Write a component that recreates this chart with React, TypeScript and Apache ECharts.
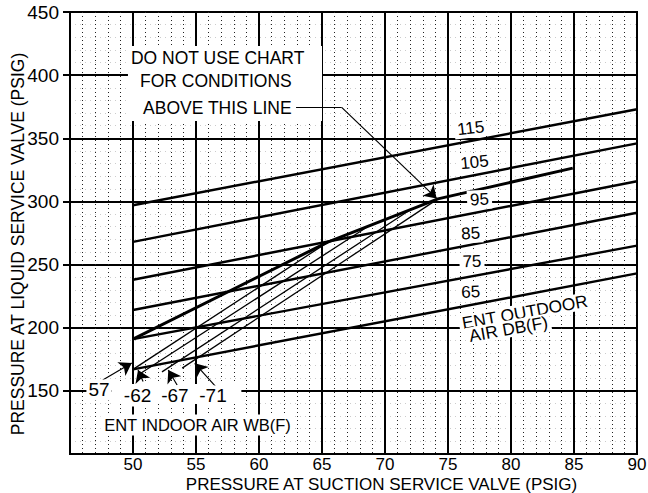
import React, { useEffect, useRef } from 'react';
import * as echarts from 'echarts';

// ---- data ----
const xRange = [45, 90];
const yRange = [100, 450];

// Entering outdoor air dry-bulb lines, from 50 psig to 90 psig suction
const dbLabels = ['115', '105', '95', '85', '75', '65'];
const dbX = [50, 90];
const dbStartY = [297, 268, 238, 214, 191, 167];
const dbEndY = [373, 346, 316, 291, 265, 243];

// "Do not use chart above this line" limit curve
const limitX = [50, 65.5, 74.2, 84.9];
const limitY = [191, 268, 302, 326.4];

// Entering indoor air wet-bulb lines
const wbLabels = ['57', '62', '67', '71'];
const wbStartX = [50, 50.4, 52.3, 53.9];
const wbStartY = [167, 162.5, 165, 168];
const wbEndX = [65.5, 68.7, 72.1, 74.2];
const wbEndY = [268, 280.5, 294, 302];

// leader arrows for the wet-bulb labels (tail -> tip)
const wbLeaderTail = [[47.6, 158.6], [50.8, 157.4], [53.5, 154.6], [56.8, 150.7]];
const wbLeaderTip = [[49.9, 172], [50.4, 166.6], [52.8, 166.5], [54.9, 171.8]];

// leader of the limit note
const noteLeader = [[62.94, 374.5], [66.56, 374.5], [74.1, 302.4]];

const noteLines = ['DO NOT USE CHART', 'FOR CONDITIONS', 'ABOVE THIS LINE'];

// ---- annotation placement (value coordinates) ----
const notePos = [[49.84, 413.5], [50.56, 395.3], [50.8, 374]];
const noteMask = [49.6, 363.7, 65, 423];
const dbLabelPos = [[76.8, 358], [77.1, 331], [77.5, 301.5], [76.8, 274.6], [76.9, 252.4], [76.8, 228.3]];
const dbLabelRot = [0.12, 0.1, 0.05, 0.06, 0.03, 0.05];
const wbLabelText = ['57', '-62', '-67', '-71'];
const wbLabelPos = [[47.3, 150.7], [50.36, 146], [53.33, 146], [56.35, 146]];
const wbMask = [48.3, 139.6, 58.6, 155.4];

const FONT = '"Liberation Sans", Arial, sans-serif';

export default function App() {
  const ref = useRef<HTMLDivElement>(null);

  useEffect(() => {
    if (!ref.current) return;
    const chart = echarts.init(ref.current, null, { renderer: 'svg' });

    const series: any[] = [];
    dbLabels.forEach((n, i) => {
      series.push({
        type: 'line',
        name: 'DB ' + n,
        data: [[dbX[0], dbStartY[i]], [dbX[1], dbEndY[i]]],
        symbol: 'none',
        lineStyle: { color: '#000', width: 2.4 },
        z: 3,
      });
    });
    series.push({
      type: 'line',
      name: 'limit',
      data: limitX.map((x, i) => [x, limitY[i]]),
      symbol: 'none',
      lineStyle: { color: '#000', width: 3 },
      z: 3,
    });
    wbLabels.forEach((n, i) => {
      series.push({
        type: 'line',
        name: 'WB ' + n,
        data: [[wbStartX[i], wbStartY[i]], [wbEndX[i], wbEndY[i]]],
        symbol: 'none',
        lineStyle: { color: '#000', width: 1.3 },
        z: 3,
      });
    });
    // horizontal part of the note leader (no arrow)
    series.push({
      type: 'lines',
      coordinateSystem: 'cartesian2d',
      symbol: ['none', 'none'],
      lineStyle: { color: '#000', width: 1.2, opacity: 1 },
      data: [{ coords: [noteLeader[0], noteLeader[1]] }],
      z: 4,
    });
    // arrowed leaders
    series.push({
      type: 'lines',
      coordinateSystem: 'cartesian2d',
      symbol: ['none', 'arrow'],
      symbolSize: [4, 12],
      lineStyle: { color: '#000', width: 1.2, opacity: 1 },
      itemStyle: { color: '#000' },
      data: [
        { coords: [noteLeader[1], noteLeader[2]] },
        ...wbLeaderTail.map((t, i) => ({ coords: [t, wbLeaderTip[i]] })),
      ],
      z: 4,
    });

    const nameText = { color: '#000', fontSize: 17, fontFamily: FONT };

    chart.setOption({
      animation: false,
      backgroundColor: '#fff',
      grid: {
        left: 70, right: 11, top: 12, bottom: 39,
        outerBoundsMode: 'none',
        containLabel: false,
        show: true, borderColor: '#000', borderWidth: 2, backgroundColor: 'transparent',
      },
      xAxis: {
        type: 'value', min: xRange[0], max: xRange[1], interval: 5,
        name: 'PRESSURE AT SUCTION SERVICE VALVE (PSIG)',
        nameLocation: 'middle', nameGap: 22, nameMoveOverlap: false,
        nameTextStyle: { ...nameText, padding: [0, 0, 0, 56] },
        axisLine: { show: true, lineStyle: { color: '#000', width: 2 } },
        axisTick: { show: false },
        axisLabel: { color: '#000', fontFamily: FONT, fontSize: 17, margin: 2, showMinLabel: false },
        splitLine: { show: true, lineStyle: { color: '#000', width: 2 } },
        minorTick: { show: false, splitNumber: 5 },
        minorSplitLine: { show: true, lineStyle: { color: '#222', width: 1, type: [1, 3] } },
      },
      yAxis: {
        type: 'value', min: yRange[0], max: yRange[1], interval: 50,
        name: 'PRESSURE AT LIQUID SERVICE VALVE (PSIG)',
        nameLocation: 'middle', nameGap: 43, nameMoveOverlap: false,
        nameTextStyle: { ...nameText, fontSize: 17.5, padding: [0, 22, 0, 0] },
        axisLine: { show: true, lineStyle: { color: '#000', width: 2 } },
        axisTick: { show: true, length: 7, lineStyle: { color: '#000', width: 2 } },
        axisLabel: { color: '#000', fontFamily: FONT, fontSize: 19, margin: 11, showMinLabel: false },
        splitLine: { show: true, lineStyle: { color: '#000', width: 2 } },
        minorTick: { show: false, splitNumber: 5 },
        minorSplitLine: { show: true, lineStyle: { color: '#ccc', width: 1, type: [1, 4] } },
      },
      series,
    });

    const P = (x: number, y: number) => chart.convertToPixel({ gridIndex: 0 }, [x, y]) as number[];
    const maskRect = (m: number[]) => {
      const a = P(m[0], m[3]);
      const b = P(m[2], m[1]);
      return {
        type: 'rect', z: 1, silent: true,
        shape: { x: a[0], y: a[1], width: b[0] - a[0], height: b[1] - a[1] },
        style: { fill: '#fff' },
      };
    };
    const txt = (text: string, pos: number[], opts: any = {}) => {
      const p = P(pos[0], pos[1]);
      const st: any = {
        text, fill: '#000', fontSize: opts.size || 17, fontFamily: FONT,
        align: opts.align || 'center', verticalAlign: 'middle',
      };
      if (opts.bg !== false) {
        st.backgroundColor = '#fff';
        st.padding = opts.padding || [1, 3];
      }
      return {
        type: 'text', z: 10, silent: true,
        x: p[0], y: p[1], rotation: opts.rotation || 0,
        style: st,
      };
    };

    const elements: any[] = [maskRect(noteMask), maskRect(wbMask)];
    noteLines.forEach((t, i) => elements.push(txt(t, notePos[i], { align: 'left', bg: false, size: 17.5 })));
    dbLabels.forEach((t, i) => elements.push(txt(t, dbLabelPos[i], { rotation: dbLabelRot[i], size: 17 })));
    elements.push(txt('ENT OUTDOOR', [81.1, 212.4], { rotation: 0.18, padding: [0, 3], size: 17.3 }));
    elements.push(txt('AIR DB(F)', [79.8, 199], { rotation: 0.18, padding: [0, 3], size: 17.3 }));
    wbLabelText.forEach((t, i) => elements.push(txt(t, wbLabelPos[i], { padding: [1, 2], size: 19 })));
    elements.push(txt('ENT INDOOR AIR WB(F)', [55.12, 123], { padding: [2, 3], size: 16.5 }));

    chart.setOption({ graphic: { elements } });

    return () => chart.dispose();
  }, []);

  return (
    <div
      ref={ref}
      style={{ position: 'fixed', left: 0, top: 0, width: 648, height: 493, background: '#fff' }}
    />
  );
}
